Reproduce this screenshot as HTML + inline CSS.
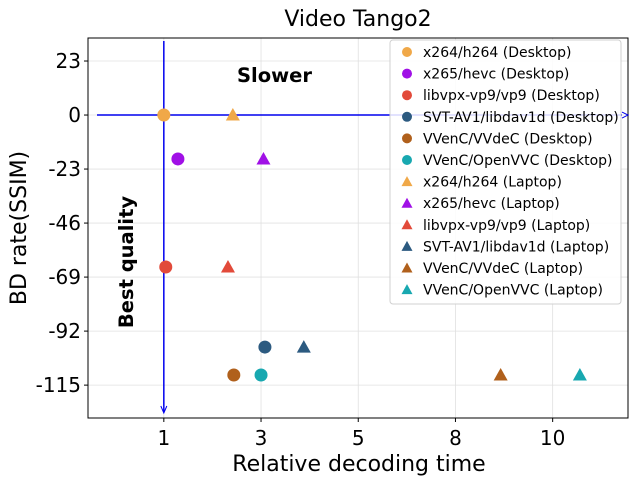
<!DOCTYPE html>
<html><head><meta charset="utf-8"><style>
body{margin:0;background:#fff;font-family:"Liberation Sans","DejaVu Sans",sans-serif}
svg text{font-family:"DejaVu Sans","Liberation Sans",sans-serif}
</style></head><body>
<svg id="c" width="640" height="484" xmlns="http://www.w3.org/2000/svg"></svg>
<script>
const xTickVals=[1,3,5,7,9];
const xTickLabels=["1","3","5","8","10"];
const yTickVals=[23,0,-23,-46,-69,-92,-115];
const seriesNames=["x264/h264 (Desktop)","x265/hevc (Desktop)","libvpx-vp9/vp9 (Desktop)","SVT-AV1/libdav1d (Desktop)","VVenC/VVdeC (Desktop)","VVenC/OpenVVC (Desktop)","x264/h264 (Laptop)","x265/hevc (Laptop)","libvpx-vp9/vp9 (Laptop)","SVT-AV1/libdav1d (Laptop)","VVenC/VVdeC (Laptop)","VVenC/OpenVVC (Laptop)"];
const seriesX=[1,1.29,1.04,3.08,2.44,3.0,2.42,3.05,2.32,3.88,7.93,9.56];
const seriesY=[0,-18.7,-64.7,-98.8,-110.7,-110.7,0,-18.7,-64.7,-98.8,-110.7,-110.7];
const seriesColors=["#f0a848","#a010e6","#e24a3a","#2c5a80","#b0601c","#18a8b0","#f0a848","#a010e6","#e24a3a","#2c5a80","#b0601c","#18a8b0"];
const seriesShape=["o","o","o","o","o","o","t","t","t","t","t","t"];

const L=88,R=628,T=38,B=418;
const xMin=-0.56,xMax=10.55,yMin=-129,yMax=32.8;
const sx=v=>L+(v-xMin)/(xMax-xMin)*(R-L);
const sy=v=>B-(v-yMin)/(yMax-yMin)*(B-T);
const svg=document.getElementById('c');
const NS="http://www.w3.org/2000/svg";
function mk(tag,attrs,parent){const e=document.createElementNS(NS,tag);for(const k in attrs)e.setAttribute(k,attrs[k]);(parent||svg).appendChild(e);return e;}

xTickVals.forEach((v,i)=>{
 const g=mk('line',{x1:sx(v),x2:sx(v),y1:T,y2:B,stroke:'#e0e0e0','stroke-width':0.8});
 
 
 mk('line',{x1:sx(v),x2:sx(v),y1:B,y2:B+4,stroke:'#000'});
 const t=mk('text',{x:sx(v),y:B+27,'font-size':20,'text-anchor':'middle'});t.textContent=xTickLabels[i];
 
 
});
yTickVals.forEach(v=>{
 const g=mk('line',{x1:L,x2:R,y1:sy(v),y2:sy(v),stroke:'#e0e0e0','stroke-width':0.8});
 
 
 mk('line',{x1:L-4,x2:L,y1:sy(v),y2:sy(v),stroke:'#000'});
 const t=mk('text',{x:L-7,y:sy(v)+7,'font-size':20,'text-anchor':'end'});t.textContent=v;
 
 
});
const fr=mk('rect',{x:L,y:T,width:R-L,height:B-T,fill:'none',stroke:'#000','stroke-width':1});



const hx=mk('line',{x1:97,x2:622,y1:sy(0),y2:sy(0),stroke:'#0000ee','stroke-width':1.5});


mk('path',{d:`M622 ${sy(0)-3} L628 ${sy(0)} L622 ${sy(0)+3}`,fill:'none',stroke:'#0000ee'});
const vx=mk('line',{x1:sx(1),x2:sx(1),y1:41,y2:412,stroke:'#0000ee','stroke-width':1.5});


mk('path',{d:`M${sx(1)-3} 406 L${sx(1)} 413 L${sx(1)+3} 406`,fill:'none',stroke:'#0000ee'});

seriesX.forEach((xv,i)=>{
 const x=sx(xv),y=sy(seriesY[i]);let m;
 if(seriesShape[i]==='o') m=mk('circle',{cx:x,cy:y,r:6.5,fill:seriesColors[i]});
 else m=mk('path',{d:`M${x} ${y-7} L${x+7} ${y+5.5} L${x-7} ${y+5.5}Z`,fill:seriesColors[i]});
 
 
});

let t=mk('text',{x:237,y:82,'font-size':19.5,'font-weight':'bold'});t.textContent='Slower';


t=mk('text',{x:0,y:0,'font-size':19.5,'font-weight':'bold','text-anchor':'middle',transform:'translate(133,262) rotate(-90)'});t.textContent='Best quality';


t=mk('text',{x:358,y:26,'font-size':22,'text-anchor':'middle'});t.textContent='Video Tango2';


t=mk('text',{x:359,y:471,'font-size':22,'text-anchor':'middle'});t.textContent='Relative decoding time';


t=mk('text',{x:0,y:0,'font-size':22,'text-anchor':'middle',transform:'translate(26,228) rotate(-90)'});t.textContent='BD rate(SSIM)';



const lg=mk('rect',{x:390,y:40,width:231,height:264,rx:3,fill:'#fff','fill-opacity':0.85,stroke:'#d0d0d0'});


seriesNames.forEach((n,i)=>{
 const y=52+i*21.6,x=407;let m;
 if(seriesShape[i]==='o') m=mk('circle',{cx:x,cy:y,r:5,fill:seriesColors[i]});
 else m=mk('path',{d:`M${x} ${y-5.5} L${x+5.5} ${y+4.5} L${x-5.5} ${y+4.5}Z`,fill:seriesColors[i]});
 
 
 const tt=mk('text',{x:423,y:y+5,'font-size':14});tt.textContent=n;
 
 
});
</script>
</body></html>
